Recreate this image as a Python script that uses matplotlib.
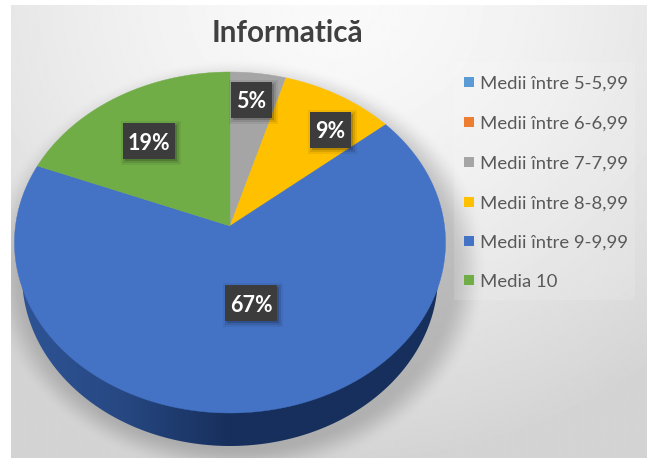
import numpy as np
import matplotlib
matplotlib.use("Agg")
import matplotlib.pyplot as plt
from matplotlib.patches import Rectangle, Polygon

W, H = 647, 458

title = "Informatică"
categories = ["Medii între 5-5,99", "Medii între 6-6,99", "Medii între 7-7,99",
              "Medii între 8-8,99", "Medii între 9-9,99", "Media 10"]
# printed labels are 5, 9, 67, 19; slices read a bit off the round numbers
values = [0, 0, 4.6, 9.4, 67, 19]
colors = ["#5b9bd5", "#ed7d31", "#a5a5a5", "#ffc000", "#4472c4", "#70ad47"]

# where the boxes sit, px centres, same order as values
label_pos = [None, None, (251, 100), (330, 130), (251, 303), (149, 141)]
legend_y = [82, 122, 162, 202, 241, 280]

# pie geometry: apex is not the ellipse centre (perspective)
ax_x, ax_y = 230, 226
k, A, B = 0.0968, 168.9, 214.5
depth = 33


def project(t, r=1.0):
    # t clockwise from top, radians
    x = r * np.sin(t)
    y = r * np.cos(t)
    d = 1 + k * y
    return ax_x + B * x / d, ax_y - A * y / d


fig = plt.figure(figsize=(W / 100, H / 100), dpi=100, facecolor="white")
ax = fig.add_axes([0, 0, 1, 1])
ax.axis("off")

# background with soft shadow
yy, xx = np.mgrid[0:H, 0:W]
dist = np.sqrt(((xx - 330) / 520.0) ** 2 + ((yy + 10) / 470.0) ** 2)
bg = 250 - 38 * np.clip(dist, 0, 1.0) ** 1.5
d = np.sqrt(((xx - 230) / 232.0) ** 2 + ((yy - 265) / 192.0) ** 2)
shadow = np.clip((1.10 - d) / 0.16, 0, 1)
shadow = shadow * shadow * (3 - 2 * shadow)
bg = bg * (1 - 0.19 * shadow)
ax.imshow(bg, cmap="gray", vmin=0, vmax=255, extent=(11, W, H, 5), aspect="auto", zorder=0,
          interpolation="bilinear")

# legend panel
ax.add_patch(Rectangle((454, 62), 181, 238, fc="white", ec="none", alpha=0.13, zorder=1))

# side of the pie, lower ellipse is a little narrower
tt = np.linspace(0, 2 * np.pi, 400)
ex, ey = project(tt)
side = np.column_stack([ax_x + (ex - ax_x) * 0.965, ey + depth])
side_patch = Polygon(side, closed=True, fc="none", ec="none")
ax.add_patch(side_patch)
grad = np.interp(np.linspace(0, 1, 256), [0, 0.25, 0.5, 1], [0, 0.35, 1, 1])
side_rgb = np.outer(1 - grad, [0x2f, 0x55, 0x97]) + np.outer(grad, [0x17, 0x2f, 0x5c])
side_im = ax.imshow(side_rgb[None, :, :] / 255.0, extent=(13, 447, 450, 230), aspect="auto", zorder=2)
side_im.set_clip_path(side_patch)

# slices
fracs = np.array(values) / sum(values)
edges = np.r_[0, np.cumsum(fracs)] * 2 * np.pi
for i, c in enumerate(colors):
    if values[i] == 0:
        continue
    t = np.linspace(edges[i], edges[i + 1], 200)
    px, py = project(t)
    ax.fill(np.r_[ax_x, px], np.r_[ax_y, py], fc=c, ec=c, lw=0.3, zorder=3)

# data labels
for v, pos in zip(values, label_pos):
    if v == 0:
        continue
    cx, cy = pos
    hw = 26 if v >= 10 else 20.5
    for grow, a in [(4, 0.06), (2, 0.10), (0, 0.16)]:
        ax.add_patch(Rectangle((cx - hw + 2 - grow, cy - 16 - grow), 2 * (hw + grow), 36 + 2 * grow,
                               fc="black", ec="none", alpha=a, zorder=4))
    ax.add_patch(Rectangle((cx - hw, cy - 18), 2 * hw, 36, fc="#3d3c3c", ec="none", zorder=5))
    ax.text(cx, cy + 2, "%.0f%%" % v, color="white", fontsize=15.5, fontweight="bold", family="Lato",
            ha="center", va="center", zorder=6)

# title
ax.text(287, 33, title, color="#404040", fontsize=21.3, fontweight="bold", family="Lato",
        ha="center", va="center", zorder=6)

# legend
for name, c, y in zip(categories, colors, legend_y):
    ax.add_patch(Rectangle((464, y - 5), 10, 10, fc=c, ec="none", zorder=6))
    ax.text(480, y + 2, name, color="#595959", fontsize=13.3, family="Lato",
            ha="left", va="center", zorder=6)

ax.set_xlim(0, W)
ax.set_ylim(H, 0)
fig.savefig("out.png", dpi=100)
